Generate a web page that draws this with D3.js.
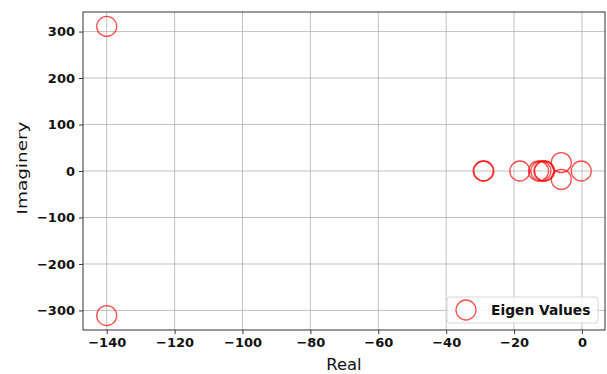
<!DOCTYPE html>
<html>
<head>
<meta charset="utf-8">
<script src="https://cdn.jsdelivr.net/npm/d3@7"></script>
<style>
  html, body { margin: 0; padding: 0; background: #fff; }
  svg { display: block; }
  text { font-family: "DejaVu Sans", sans-serif; }
</style>
</head>
<body>
<svg id="chart" width="607" height="374"></svg>
<script>
// Eigenvalues of the system: real and imaginary parts
const realParts = [-140, -140, -29.1, -28.9, -18.3, -12.8, -12.1, -11.2, -11.0, -6.1, -6.1, -0.2];
const imagParts = [311, -311, 0, 0, 0, 0, 0, 0, 0, 18, -18, 0];
const xTicks = [-140, -120, -100, -80, -60, -40, -20, 0];
const yTicks = [-300, -200, -100, 0, 100, 200, 300];
const seriesName = "Eigen Values";

const svg = d3.select("#chart");
const margin = { left: 83, right: 2, top: 12, bottom: 44 };
const W = 607, H = 374;

// matplotlib-style 5% margins around the data extent
const xExt = d3.extent(realParts), yExt = d3.extent(imagParts);
const xPad = (xExt[1] - xExt[0]) * 0.05, yPad = (yExt[1] - yExt[0]) * 0.05;
const x = d3.scaleLinear().domain([xExt[0] - xPad, xExt[1] + xPad]).range([margin.left, W - margin.right]);
const y = d3.scaleLinear().domain([yExt[0] - yPad, yExt[1] + yPad]).range([H - margin.bottom, margin.top]);

const fmt = d => (d < 0 ? "\u2212" + Math.abs(d) : String(d));

// grid
const grid = svg.append("g").attr("stroke", "#b0b0b0").attr("stroke-width", 0.8);
grid.selectAll(".gx").data(xTicks).join("line")
  .attr("x1", d => x(d)).attr("x2", d => x(d))
  .attr("y1", y.range()[0]).attr("y2", y.range()[1]);
grid.selectAll(".gy").data(yTicks).join("line")
  .attr("y1", d => y(d)).attr("y2", d => y(d))
  .attr("x1", x.range()[0]).attr("x2", x.range()[1]);

// axes
const xAxis = svg.append("g").attr("transform", `translate(0,${H - margin.bottom})`)
  .call(d3.axisBottom(x).tickValues(xTicks).tickFormat(fmt).tickSize(4).tickPadding(4));
const yAxis = svg.append("g").attr("transform", `translate(${margin.left},0)`)
  .call(d3.axisLeft(y).tickValues(yTicks).tickFormat(fmt).tickSize(4).tickPadding(4));
[xAxis, yAxis].forEach(a => {
  a.select(".domain").remove();
  a.selectAll(".tick line").attr("stroke", "#222").attr("stroke-width", 0.9);
  a.selectAll(".tick text").attr("fill", "#111")
    .style("font-family", "DejaVu Sans").style("font-weight", "bold").style("font-size", "13px");
});

// frame
svg.append("rect")
  .attr("x", x.range()[0]).attr("y", y.range()[1])
  .attr("width", x.range()[1] - x.range()[0]).attr("height", y.range()[0] - y.range()[1])
  .attr("fill", "none").attr("stroke", "#333").attr("stroke-width", 1);

// points
svg.append("g").selectAll("circle").data(realParts).join("circle")
  .attr("cx", d => x(d)).attr("cy", (d, i) => y(imagParts[i]))
  .attr("r", 10).attr("fill", "none")
  .attr("stroke", "red").attr("stroke-opacity", 0.7).attr("stroke-width", 1.3);

// axis labels
svg.append("text").attr("x", (x.range()[0] + x.range()[1]) / 2).attr("y", 370)
  .attr("text-anchor", "middle").style("font-size", "16.4px").attr("fill", "#111").text("Real");
svg.append("text")
  .attr("transform", `translate(27,168) rotate(-90)`)
  .attr("text-anchor", "middle").style("font-size", "14px")
  .attr("textLength", 93).attr("lengthAdjust", "spacingAndGlyphs")
  .attr("fill", "#111").text("Imaginery");

// legend
const lg = svg.append("g");
lg.append("rect").attr("x", 447).attr("y", 297).attr("width", 151).attr("height", 26)
  .attr("rx", 3).attr("fill", "#fff").attr("fill-opacity", 0.8)
  .attr("stroke", "#d8d8d8").attr("stroke-width", 1);
lg.append("circle").attr("cx", 466).attr("cy", 310).attr("r", 10).attr("fill", "none")
  .attr("stroke", "red").attr("stroke-opacity", 0.7).attr("stroke-width", 1.3);
lg.append("text").attr("x", 491).attr("y", 314.5)
  .style("font-weight", "bold").style("font-size", "13.8px").attr("fill", "#111").text(seriesName);
</script>
</body>
</html>
